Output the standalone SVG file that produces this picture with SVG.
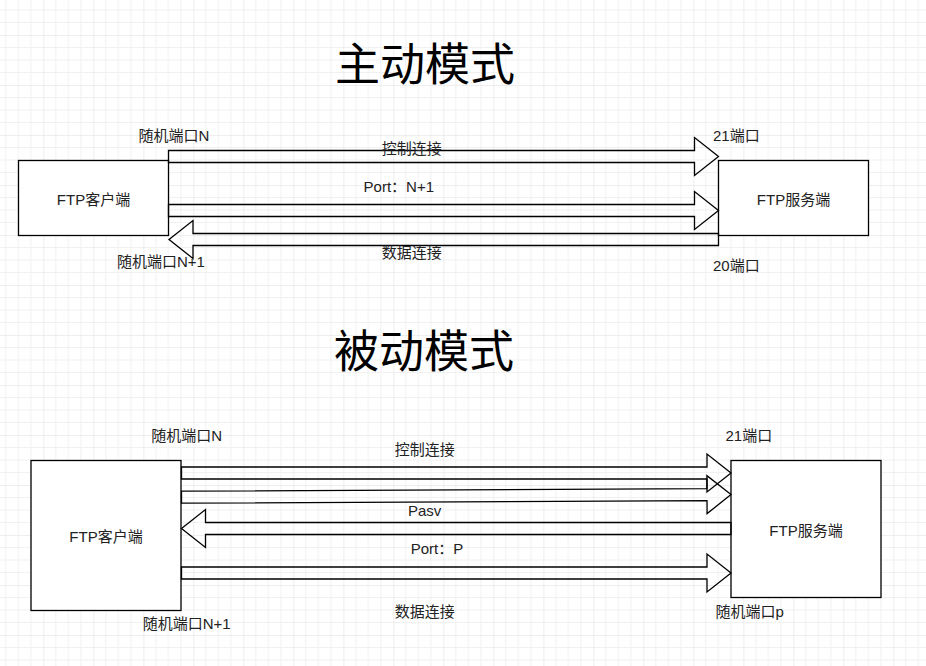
<svg xmlns="http://www.w3.org/2000/svg" width="926" height="666" viewBox="0 0 926 666">
  <style>
    .node { fill: #ffffff; stroke: #000000; stroke-width: 1.3; }
    .flow { fill: none; stroke: #000000; stroke-width: 1.3; stroke-linejoin: miter; }
    .lbl { font-family: "Liberation Sans", "Noto Sans CJK SC", sans-serif; font-size: 15px; fill: #222222; text-anchor: middle; dominant-baseline: central; }
    .title { font-family: "Noto Sans CJK SC", "Liberation Sans", sans-serif; font-size: 45px; fill: #000000; text-anchor: middle; dominant-baseline: central; }
  </style>
  <defs>
    <pattern id="grid" x="43.33" y="35" width="50" height="50" patternUnits="userSpaceOnUse">
      <path d="M12.5 0V50M25 0V50M37.5 0V50M0 12.5H50M0 25H50M0 37.5H50" fill="none" stroke="#f1f1f1" stroke-width="1"/>
      <path d="M0 0V50M0 0H50" fill="none" stroke="#dedede" stroke-width="1"/>
    </pattern>
  </defs>

  <!-- background grid -->
  <rect x="0" y="0" width="926" height="666" fill="#ffffff"/>
  <rect x="0" y="0" width="926" height="666" fill="url(#grid)"/>

  <!-- section titles -->
  <text class="title" x="425" y="61">主动模式</text>
  <text class="title" x="424" y="348">被动模式</text>

  <!-- active mode nodes -->
  <g id="active-client">
    <rect class="node" x="18.5" y="160.5" width="150" height="75"/>
    <text class="lbl" x="93.5" y="199">FTP客户端</text>
  </g>
  <g id="active-server">
    <rect class="node" x="718.5" y="160.5" width="150" height="75"/>
    <text class="lbl" x="793.5" y="199">FTP服务端</text>
  </g>

  <!-- passive mode nodes -->
  <g id="passive-client">
    <rect class="node" x="31" y="460.5" width="150" height="150"/>
    <text class="lbl" x="106" y="536">FTP客户端</text>
  </g>
  <g id="passive-server">
    <rect class="node" x="731" y="460.5" width="150" height="137"/>
    <text class="lbl" x="806" y="530">FTP服务端</text>
  </g>

  <!-- block arrows between client and server -->
  <g id="connectors">
    <!-- active: control connection -->
    <polygon class="flow" points="168.5,150.5 694.5,150.5 694.5,137.5 718.5,156.5 694.5,175.5 694.5,162.5 168.5,162.5"/>
    <!-- active: PORT N+1 -->
    <polygon class="flow" points="168.5,204.5 694.5,204.5 694.5,191.5 718.5,210.5 694.5,229.5 694.5,216.5 168.5,216.5"/>
    <!-- active: data connection (server to client) -->
    <polygon class="flow" points="718.5,233.5 193,233.5 193,220.5 169,239.5 193,258.5 193,245.5 718.5,245.5"/>

    <!-- passive: control connection -->
    <polygon class="flow" points="181.5,467 707,467 707,454 731,473 707,492 707,479 181.5,479"/>
    <!-- passive: PASV request -->
    <polygon class="flow" transform="translate(181.5 497.2) rotate(-0.28)" points="0,-6 525.5,-6 525.5,-19 549.5,0 525.5,19 525.5,6 0,6"/>
    <!-- passive: reply with port P -->
    <polygon class="flow" points="731,522.5 205.5,522.5 205.5,509.5 181.5,528.5 205.5,547.5 205.5,534.5 731,534.5"/>
    <!-- passive: data connection -->
    <polygon class="flow" points="181.5,567 707,567 707,554 731,573 707,592 707,579 181.5,579"/>
  </g>

  <!-- connector and port labels -->
  <g id="labels">
    <text class="lbl" x="174" y="135.7">随机端口N</text>
    <text class="lbl" x="411.7" y="148.5">控制连接</text>
    <text class="lbl" x="398.8" y="186">Port：N+1</text>
    <text class="lbl" x="411.7" y="252.3">数据连接</text>
    <text class="lbl" x="161" y="261.7">随机端口N+1</text>
    <text class="lbl" x="736.3" y="135.7">21端口</text>
    <text class="lbl" x="736.3" y="265">20端口</text>

    <text class="lbl" x="186.7" y="435.7">随机端口N</text>
    <text class="lbl" x="424.7" y="449.3">控制连接</text>
    <text class="lbl" x="424.7" y="510.7">Pasv</text>
    <text class="lbl" x="437" y="548.3">Port：P</text>
    <text class="lbl" x="424.7" y="611">数据连接</text>
    <text class="lbl" x="186.7" y="623.3">随机端口N+1</text>
    <text class="lbl" x="748.8" y="435.7">21端口</text>
    <text class="lbl" x="749.7" y="611.7">随机端口p</text>
  </g>
</svg>
